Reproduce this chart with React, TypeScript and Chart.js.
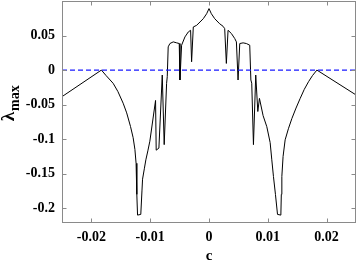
import React, { useEffect, useRef } from "react";
import { Chart, registerables } from "chart.js";

Chart.register(...registerables);

const cValues = [
  -0.025, -0.0183, -0.0175, -0.0163, -0.0155, -0.0146, -0.014, -0.01335, -0.0129, -0.0126, -0.0124, -0.0123, -0.01225, -0.01215,
  -0.0116, -0.0114, -0.0113, -0.011, -0.01074, -0.0104, -0.01006, -0.00909, -0.00898, -0.00852, -0.00795, -0.00762, -0.00721,
  -0.0071, -0.00694, -0.00665, -0.00608, -0.0055, -0.00506, -0.00494, -0.00466, -0.00409, -0.00352, -0.00313, -0.00296, -0.00267,
  -0.0021, -0.00153, -0.00097, -0.0004, 0,
  0.0004, 0.00097, 0.00182, 0.00239, 0.00267, 0.00295, 0.00324, 0.0038, 0.00438, 0.00466, 0.00494, 0.00523, 0.0058, 0.00636,
  0.00693, 0.00712, 0.00727, 0.00756, 0.00795, 0.0083, 0.00858, 0.0092, 0.00983, 0.0104, 0.01068, 0.01096, 0.0113, 0.01165,
  0.01222, 0.0123, 0.01239, 0.0126, 0.01295, 0.0135, 0.0141, 0.0148, 0.01551, 0.0162, 0.01693, 0.0176, 0.01835, 0.025,
];

const lambdaValues = [
  -0.0385, 0, -0.008, -0.0192, -0.031, -0.048, -0.062, -0.0817, -0.098, -0.115, -0.135, -0.154, -0.18, -0.21,
  -0.209, -0.175, -0.158, -0.143, -0.13, -0.117, -0.103, -0.044, -0.116, -0.113, -0.0072, -0.108, -0.0192,
  -0.0096, 0.0336, 0.0384, 0.0408, 0.0394, 0.0384, -0.0144, 0.036, 0.048, 0.0552, 0.0576, 0.012, 0.0624,
  0.0648, 0.0696, 0.0744, 0.0816, 0.089,
  0.0816, 0.0744, 0.067, 0.0634, 0.06, 0.0096, 0.0576, 0.053, 0.0456, 0.0408, -0.0144, 0.0384, 0.0394, 0.0384,
  0.036, -0.0144, -0.019, -0.108, -0.0072, -0.06, -0.041, -0.066, -0.082, -0.105, -0.13, -0.154, -0.18, -0.209,
  -0.21, -0.18, -0.154, -0.125, -0.101, -0.085, -0.07, -0.055, -0.041, -0.028, -0.0168, -0.008, 0, -0.036,
];

const zeroLineC = [-0.025, 0.025];
const zeroLineLambda = [0, 0];

const xTickValues = [-0.02, -0.01, 0, 0.01, 0.02];
const xTickLabels = ["-0.02", "-0.01", "0", "0.01", "0.02"];
const yTickValues = [-0.2, -0.15, -0.1, -0.05, 0, 0.05];
const yTickLabels = ["-0.2", "-0.15", "-0.1", "-0.05", "0", "0.05"];

const FONT = "'Liberation Serif', 'Times New Roman', serif";

const framePlugin = {
  id: "frame",
  afterDraw(chart: any) {
    const { ctx, chartArea } = chart;
    const l = Math.round(chartArea.left) + 0.5;
    const r = Math.round(chartArea.right) - 0.5;
    const t = Math.round(chartArea.top) + 0.5;
    const b = Math.round(chartArea.bottom) + 0.5;
    ctx.save();
    ctx.strokeStyle = "#8a8a8a";
    ctx.lineWidth = 1;
    ctx.strokeRect(l, t, r - l, b - t);
    const xs = chart.scales.x;
    const ys = chart.scales.y;
    const tl = 4;
    ctx.beginPath();
    xs.ticks.forEach((tk: any) => {
      const px = Math.round(xs.getPixelForValue(tk.value)) + 0.5;
      ctx.moveTo(px, b);
      ctx.lineTo(px, b - tl);
      ctx.moveTo(px, t);
      ctx.lineTo(px, t + tl);
    });
    ys.ticks.forEach((tk: any) => {
      const py = Math.round(ys.getPixelForValue(tk.value)) + 0.5;
      ctx.moveTo(l, py);
      ctx.lineTo(l + tl, py);
      ctx.moveTo(r, py);
      ctx.lineTo(r - tl, py);
    });
    ctx.stroke();

    // axis titles
    ctx.fillStyle = "#000";
    ctx.textAlign = "center";
    ctx.textBaseline = "alphabetic";
    ctx.font = `bold 15px ${FONT}`;
    ctx.fillText("c", (chartArea.left + chartArea.right) / 2, 260);

    ctx.translate(10, 110);
    ctx.rotate(-Math.PI / 2);
    ctx.textAlign = "left";
    ctx.font = `bold 19px ${FONT}`;
    const wl = ctx.measureText("λ").width;
    ctx.fillText("λ", -(2 + wl), 4);
    ctx.font = `bold 14px ${FONT}`;
    ctx.fillText("max", -1, 9);
    ctx.restore();
  },
};

export default function App() {
  const ref = useRef<HTMLCanvasElement | null>(null);
  useEffect(() => {
    if (!ref.current) return;
    const chart = new Chart(ref.current, {
      type: "line",
      data: {
        datasets: [
          {
            data: cValues.map((c, i) => ({ x: c, y: lambdaValues[i] })),
            borderColor: "#000",
            borderWidth: 1,
            pointRadius: 0,
            tension: 0,
            order: 2,
          },
          {
            data: zeroLineC.map((c, i) => ({ x: c, y: zeroLineLambda[i] })),
            borderColor: "#1a1aff",
            borderWidth: 1.3,
            borderDash: [5, 3],
            pointRadius: 0,
            order: 1,
          },
        ],
      },
      options: {
        responsive: false,
        animation: false,
        events: [],
        layout: { padding: { top: 1, right: 1, left: 0, bottom: 0 } },
        plugins: { legend: { display: false }, tooltip: { enabled: false } },
        scales: {
          x: {
            type: "linear",
            min: -0.025,
            max: 0.025,
            afterBuildTicks: (s: any) => {
              s.ticks = xTickValues.map((v) => ({ value: v }));
            },
            afterFit: (s: any) => {
              s.height = 39;
              s.paddingLeft = 0;
              s.paddingRight = 0;
            },
            grid: { display: false, drawTicks: false },
            border: { display: false },
            ticks: {
              padding: 7,
              maxRotation: 0,
              autoSkip: false,
              color: "#000",
              font: { family: FONT, size: 14, weight: "bold" },
              callback: (v: any) => {
                const i = xTickValues.findIndex((t) => Math.abs(t - v) < 1e-9);
                return i >= 0 ? xTickLabels[i] : "";
              },
            },
          },
          y: {
            type: "linear",
            min: -0.22,
            max: 0.1,
            afterBuildTicks: (s: any) => {
              s.ticks = yTickValues.map((v) => ({ value: v }));
            },
            afterFit: (s: any) => {
              s.width = 62;
              s.paddingTop = 0;
              s.paddingBottom = 0;
            },
            grid: { display: false, drawTicks: false },
            border: { display: false },
            ticks: {
              padding: 7,
              autoSkip: false,
              color: "#000",
              font: { family: FONT, size: 14, weight: "bold" },
              callback: (v: any) => {
                const i = yTickValues.findIndex((t) => Math.abs(t - v) < 1e-9);
                return i >= 0 ? yTickLabels[i] : "";
              },
            },
          },
        },
      },
      plugins: [framePlugin],
    });
    return () => chart.destroy();
  }, []);
  return (
    <div style={{ position: "fixed", left: 0, top: 0, width: 357, height: 261, background: "#fff" }}>
      <canvas ref={ref} width={357} height={261} style={{ display: "block" }} />
    </div>
  );
}
